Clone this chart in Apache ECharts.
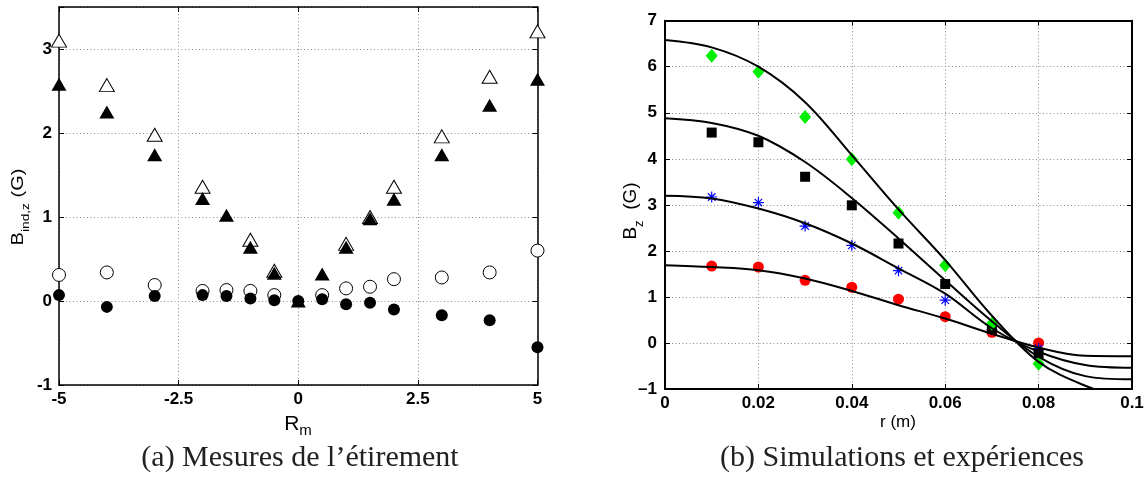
<!DOCTYPE html>
<html><head><meta charset="utf-8">
<script src="https://cdn.jsdelivr.net/npm/echarts/dist/echarts.min.js"></script>
<style>html,body{margin:0;padding:0;background:#fff}#c{width:1144px;height:491px}</style>
</head><body><div id="c"></div>
<script>
// ---- Panel (a): Mesures de l'étirement ----
const rmValues = [-5, -4, -3, -2, -1.5, -1, -0.5, 0, 0.5, 1, 1.5, 2, 3, 4, 5];
const openTriangle = [3.10, 2.57, 1.98, 1.36, null, 0.73, 0.36, null, null, 0.68, 1.00, 1.36, 1.96, 2.67, 3.21];
const filledTriangle = [2.58, 2.25, 1.74, 1.22, 1.02, 0.64, 0.33, 0.00, 0.32, 0.64, 0.98, 1.21, 1.74, 2.33, 2.64];
const openCircle = [0.31, 0.34, 0.19, 0.12, 0.13, 0.12, 0.07, null, 0.07, 0.15, 0.17, 0.26, 0.28, 0.34, 0.60];
const filledCircle = [0.07, -0.07, 0.06, 0.07, 0.06, 0.03, 0.01, 0.00, 0.02, -0.04, -0.02, -0.10, -0.17, -0.23, -0.55];

// ---- Panel (b): Simulations et expériences ----
const rExp = [0.01, 0.02, 0.03, 0.04, 0.05, 0.06, 0.07, 0.08];
const greenDiamond = [6.24, 5.89, 4.91, 3.99, 2.83, 1.69, 0.42, -0.45];
const blackSquare = [4.57, 4.36, 3.61, 2.99, 2.16, 1.28, 0.31, -0.23];
const blueStar = [3.17, 3.05, 2.54, 2.12, 1.57, 0.93, 0.29, -0.12];
const redCircle = [1.67, 1.65, 1.36, 1.21, 0.95, 0.57, 0.23, 0.00];
const rSim = [0, 0.01, 0.02, 0.03, 0.04, 0.05, 0.06, 0.07, 0.08, 0.09, 0.1];
const simGreen = [6.58, 6.42, 6.00, 5.23, 4.08, 2.90, 1.80, 0.59, -0.41, -0.93, -1.25];
const simBlack = [4.88, 4.78, 4.50, 3.93, 3.15, 2.27, 1.36, 0.47, -0.30, -0.72, -0.79];
const simBlue = [3.20, 3.14, 2.92, 2.60, 2.16, 1.62, 1.07, 0.32, -0.19, -0.48, -0.54];
const simRed = [1.69, 1.65, 1.58, 1.40, 1.13, 0.82, 0.53, 0.20, -0.10, -0.28, -0.29];

const pair = (xs, ys) => xs.map((x, i) => [x, ys[i]]);

const tickFont = {fontFamily: 'Liberation Sans, Arial, sans-serif', fontWeight: 'bold', fontSize: 17, color: '#000'};
const gridLine = {show: true, lineStyle: {color: '#888', width: 1, type: [1, 2.5]}};
function mainAxis(gi, pos, min, max, interval, fmt, margin, lw) {
  return {
    type: 'value', gridIndex: gi, position: pos, min, max, interval,
    axisLine: {show: true, onZero: false, lineStyle: {color: '#000', width: lw}},
    axisTick: {show: true, inside: true, length: 5, lineStyle: {color: '#000', width: 1}},
    axisLabel: Object.assign({show: true, margin: margin, formatter: fmt}, tickFont),
    splitLine: gridLine
  };
}
function boxAxis(gi, pos, min, max, interval, lw) {
  return {
    type: 'value', gridIndex: gi, position: pos, min, max, interval,
    axisLine: {show: true, onZero: false, lineStyle: {color: '#000', width: lw}},
    axisTick: {show: true, inside: true, length: 5, lineStyle: {color: '#000', width: 1}},
    axisLabel: {show: false}, splitLine: {show: false}
  };
}

const yA = mainAxis(0, 'left', -1, 3.5, 1, v => (v === 3.5 ? '' : String(v)), 7, 1.5);
const yB = mainAxis(1, 'left', -1, 7, 1, v => (v < 0 ? '\u2013' + Math.abs(v) : String(v)), 8, 2);
const xA = mainAxis(0, 'bottom', -5, 5, 2.5, v => String(v), 6, 1.5);
const xB = mainAxis(1, 'bottom', 0, 0.1, 0.02, v => String(+v.toFixed(2)), 6, 2);

const asterisk = 'path://M5,0L5,10M0,5L10,5M1.6,1.6L8.4,8.4M8.4,1.6L1.6,8.4';

function scatter(xi, yi, data, symbol, size, fill, stroke, bw) {
  return {
    type: 'scatter', xAxisIndex: xi, yAxisIndex: yi, data, symbol, symbolSize: size,
    clip: false, silent: true,
    itemStyle: {color: fill, borderColor: stroke, borderWidth: bw, opacity: 1}
  };
}
function simLine(data) {
  return {
    type: 'line', xAxisIndex: 2, yAxisIndex: 2, data, showSymbol: false, symbol: 'none',
    smooth: 0.35, clip: true, silent: true,
    lineStyle: {color: '#000', width: 2}
  };
}

const serif = 'Liberation Serif, "DejaVu Serif", serif';
const sans = 'Liberation Sans, Arial, sans-serif';

const option = {
  backgroundColor: '#fff',
  animation: false,
  grid: [
    {left: 59, top: 7, width: 478.5, height: 378, outerBoundsMode: 'none', containLabel: false},
    {left: 665, top: 20.7, width: 467, height: 368.3, outerBoundsMode: 'none', containLabel: false}
  ],
  xAxis: [xA, boxAxis(0, 'top', -5, 5, 2.5, 1.5), xB, boxAxis(1, 'top', 0, 0.1, 0.02, 2)],
  yAxis: [yA, boxAxis(0, 'right', -1, 3.5, 1, 1.5), yB, boxAxis(1, 'right', -1, 7, 1, 2)],
  series: [
    scatter(0, 0, pair(rmValues, openCircle), 'circle', 13, '#fff', '#000', 1),
    scatter(0, 0, pair(rmValues, openTriangle), 'triangle', [15, 13], '#fff', '#000', 1),
    scatter(0, 0, pair(rmValues, filledCircle), 'circle', 12, '#000', '#000', 0),
    scatter(0, 0, pair(rmValues, filledTriangle), 'triangle', [15, 13], '#000', '#000', 0),
    simLine(pair(rSim, simGreen)),
    simLine(pair(rSim, simBlack)),
    simLine(pair(rSim, simBlue)),
    simLine(pair(rSim, simRed)),
    scatter(2, 2, pair(rExp, redCircle), 'circle', 11, '#ff0000', '#ff0000', 0),
    scatter(2, 2, pair(rExp, blueStar), asterisk, 11, 'transparent', '#0000ff', 1.2),
    scatter(2, 2, pair(rExp, blackSquare), 'rect', 10, '#000', '#000', 0),
    scatter(2, 2, pair(rExp, greenDiamond), 'diamond', [12, 14], '#00ee00', '#00ee00', 0)
  ],
  graphic: [
    {type: 'text', x: 19, y: 207, rotation: Math.PI / 2, scaleX: 1.25, silent: true,
     style: {text: '{m|B}{s|ind,z}{m| (G)}', align: 'center', verticalAlign: 'middle',
       rich: {m: {fontFamily: sans, fontSize: 16, lineHeight: 16, verticalAlign: 'top', fill: '#000'},
              s: {fontFamily: sans, fontSize: 11, lineHeight: 11, padding: [9, 0, 0, 0], verticalAlign: 'top', fill: '#000'}}}},
    {type: 'text', x: 298, y: 424, silent: true,
     style: {text: '{m|R}{s|m}', align: 'center', verticalAlign: 'middle',
       rich: {m: {fontFamily: sans, fontSize: 21, lineHeight: 21, verticalAlign: 'top', fill: '#000'},
              s: {fontFamily: sans, fontSize: 15, lineHeight: 15, padding: [10, 0, 0, 0], verticalAlign: 'top', fill: '#000'}}}},
    {type: 'text', x: 631, y: 211, rotation: Math.PI / 2, silent: true,
     style: {text: '{m|B}{s|z}{m|  (G)}', align: 'center', verticalAlign: 'middle',
       rich: {m: {fontFamily: sans, fontSize: 19, lineHeight: 19, verticalAlign: 'top', fill: '#000'},
              s: {fontFamily: sans, fontSize: 13, lineHeight: 13, padding: [11, 0, 0, 0], verticalAlign: 'top', fill: '#000'}}}},
    {type: 'text', x: 898, y: 422, silent: true,
     style: {text: 'r (m)', fontFamily: sans, fontSize: 17, fill: '#000', align: 'center', verticalAlign: 'middle'}},
    {type: 'text', x: 300, y: 458, silent: true,
     style: {text: '(a) Mesures de l\u2019\u00e9tirement', fontFamily: serif, fontSize: 30, fill: '#222', align: 'center', verticalAlign: 'middle'}},
    {type: 'text', x: 902, y: 458, silent: true,
     style: {text: '(b) Simulations et exp\u00e9riences', fontFamily: serif, fontSize: 30, fill: '#222', align: 'center', verticalAlign: 'middle'}}
  ]
};

const chart = echarts.init(document.getElementById('c'), null, {renderer: 'canvas', width: 1144, height: 491});
chart.setOption(option);
</script>
</body></html>
